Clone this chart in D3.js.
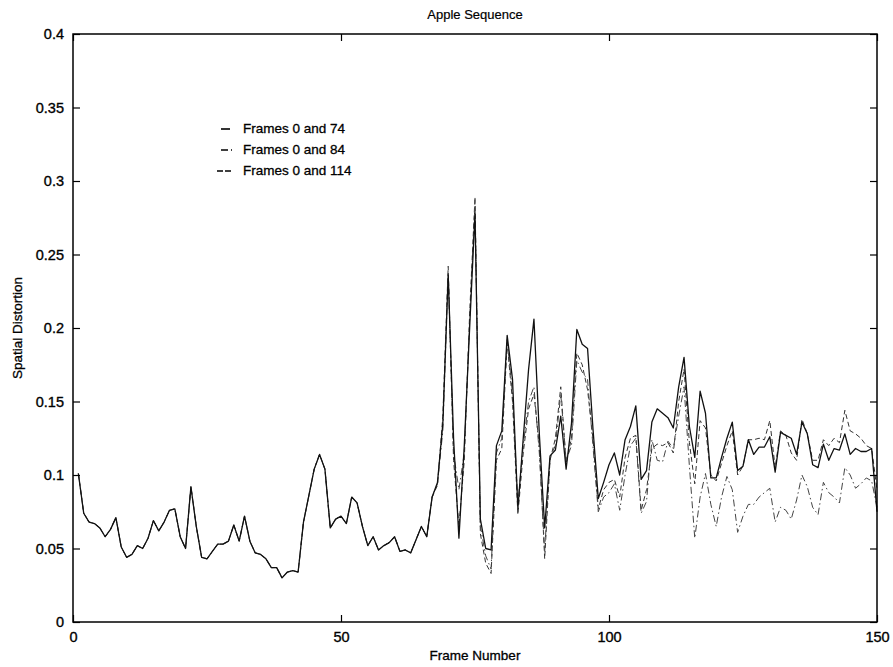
<!DOCTYPE html>
<html>
<head>
<meta charset="utf-8">
<script src="https://cdn.jsdelivr.net/npm/d3@7"></script>
<style>
  html, body { margin: 0; padding: 0; background: #fff; }
  svg { display: block; }
  text { font-family: "Liberation Sans", Arial, Helvetica, sans-serif; fill: #000; }
</style>
</head>
<body>
<svg id="chart" width="893" height="667"></svg>
<script>
const title = "Apple Sequence";
const xLabel = "Frame Number";
const yLabel = "Spatial Distortion";
const xTicks = [0, 50, 100, 150];
const yTicks = [0, 0.05, 0.1, 0.15, 0.2, 0.25, 0.3, 0.35, 0.4];
const yTickLabels = ["0", "0.05", "0.1", "0.15", "0.2", "0.25", "0.3", "0.35", "0.4"];
const seriesNames = ["Frames 0 and 74", "Frames 0 and 84", "Frames 0 and 114"];
const legendMarks = ["-", "-.", "--"];

const frames = [
  1,2,3,4,5,6,7,8,9,10,11,12,13,14,15,16,17,18,19,20,
  21,22,23,24,25,26,27,28,29,30,31,32,33,34,35,36,37,38,39,40,
  41,42,43,44,45,46,47,48,49,50,51,52,53,54,55,56,57,58,59,60,
  61,62,63,64,65,66,67,68,69,70,71,72,73,74,75,76,77,78,79,80,
  81,82,83,84,85,86,87,88,89,90,91,92,93,94,95,96,97,98,99,100,
  101,102,103,104,105,106,107,108,109,110,111,112,113,114,115,116,117,118,119,120,
  121,122,123,124,125,126,127,128,129,130,131,132,133,134,135,136,137,138,139,140,
  141,142,143,144,145,146,147,148,149,150
];

// Frames 0 and 74 (solid)
const frames74 = [
  0.101,0.074,0.068,0.067,0.064,0.058,0.063,0.071,0.051,0.044,
  0.046,0.052,0.050,0.057,0.069,0.062,0.068,0.076,0.077,0.058,
  0.050,0.092,0.065,0.044,0.043,0.048,0.053,0.053,0.055,0.066,
  0.055,0.072,0.055,0.047,0.046,0.043,0.037,0.037,0.030,0.034,
  0.035,0.034,0.068,0.086,0.104,0.114,0.104,0.064,0.070,0.072,
  0.067,0.085,0.081,0.065,0.052,0.058,0.049,0.052,0.054,0.058,
  0.048,0.049,0.047,0.056,0.065,0.058,0.085,0.095,0.135,0.236,
  0.125,0.057,0.120,0.200,0.278,0.070,0.050,0.049,0.120,0.130,
  0.195,0.165,0.077,0.125,0.172,0.206,0.128,0.064,0.113,0.117,
  0.140,0.104,0.135,0.199,0.189,0.186,0.132,0.084,0.095,0.107,
  0.115,0.100,0.124,0.133,0.147,0.097,0.103,0.136,0.145,0.142,
  0.139,0.132,0.160,0.180,0.133,0.112,0.157,0.142,0.098,0.098,
  0.112,0.125,0.136,0.103,0.106,0.124,0.114,0.119,0.119,0.126,
  0.102,0.129,0.127,0.125,0.114,0.136,0.128,0.107,0.105,0.121,
  0.110,0.118,0.117,0.128,0.114,0.118,0.116,0.116,0.118,0.075
];

// Frames 0 and 84 (dash-dot)
const frames84 = [
  0.101,0.074,0.068,0.067,0.064,0.058,0.063,0.071,0.051,0.044,
  0.046,0.052,0.050,0.057,0.069,0.062,0.068,0.076,0.077,0.058,
  0.050,0.092,0.065,0.044,0.043,0.048,0.053,0.053,0.055,0.066,
  0.055,0.072,0.055,0.047,0.046,0.043,0.037,0.037,0.030,0.034,
  0.035,0.034,0.068,0.086,0.104,0.114,0.104,0.064,0.070,0.072,
  0.067,0.085,0.081,0.065,0.052,0.058,0.049,0.052,0.054,0.058,
  0.048,0.049,0.047,0.056,0.065,0.058,0.085,0.094,0.130,0.238,
  0.115,0.090,0.115,0.205,0.285,0.065,0.045,0.036,0.115,0.125,
  0.192,0.155,0.080,0.120,0.150,0.160,0.115,0.048,0.112,0.120,
  0.155,0.110,0.120,0.178,0.170,0.165,0.120,0.075,0.085,0.088,
  0.094,0.076,0.100,0.120,0.125,0.074,0.082,0.124,0.110,0.109,
  0.123,0.118,0.140,0.160,0.106,0.057,0.085,0.101,0.080,0.065,
  0.085,0.099,0.090,0.061,0.072,0.080,0.080,0.085,0.088,0.091,
  0.068,0.078,0.076,0.070,0.083,0.100,0.092,0.078,0.073,0.095,
  0.088,0.085,0.081,0.105,0.100,0.091,0.094,0.098,0.096,0.078
];

// Frames 0 and 114 (dashed)
const frames114 = [
  0.101,0.074,0.068,0.067,0.064,0.058,0.063,0.071,0.051,0.044,
  0.046,0.052,0.050,0.057,0.069,0.062,0.068,0.076,0.077,0.058,
  0.050,0.092,0.065,0.044,0.043,0.048,0.053,0.053,0.055,0.066,
  0.055,0.072,0.055,0.047,0.046,0.043,0.037,0.037,0.030,0.034,
  0.035,0.034,0.068,0.086,0.104,0.114,0.104,0.064,0.070,0.072,
  0.067,0.085,0.081,0.065,0.052,0.058,0.049,0.052,0.054,0.058,
  0.048,0.049,0.047,0.056,0.065,0.058,0.085,0.093,0.140,0.242,
  0.110,0.065,0.110,0.210,0.289,0.060,0.040,0.033,0.110,0.118,
  0.190,0.150,0.073,0.115,0.145,0.155,0.120,0.043,0.110,0.125,
  0.160,0.108,0.125,0.183,0.175,0.158,0.125,0.077,0.090,0.095,
  0.097,0.085,0.112,0.125,0.127,0.076,0.090,0.118,0.121,0.120,
  0.122,0.115,0.150,0.172,0.122,0.094,0.137,0.132,0.100,0.096,
  0.108,0.120,0.130,0.100,0.106,0.124,0.124,0.125,0.124,0.137,
  0.105,0.130,0.127,0.115,0.110,0.138,0.128,0.110,0.110,0.124,
  0.120,0.125,0.122,0.144,0.130,0.128,0.125,0.120,0.118,0.090
];

const seriesValues = [frames74, frames84, frames114];
const seriesDash = [null, "7,3,1.5,3", "5,3"];
const seriesColor = ["#111", "#444", "#333"];

const svg = d3.select("#chart");
const W = 893, H = 667;
const m = { left: 73, right: 16, top: 34, bottom: 45 };
const iw = W - m.left - m.right, ih = H - m.top - m.bottom;

const x = d3.scaleLinear().domain([0, 150]).range([m.left, m.left + iw]);
const y = d3.scaleLinear().domain([0, 0.4]).range([m.top + ih, m.top]);

svg.append("rect").attr("width", W).attr("height", H).attr("fill", "#fff");

const g = svg.append("g");

// data lines
const line = d3.line().x((d, i) => x(frames[i])).y(d => y(d));
[2, 1, 0].forEach(k => {
  g.append("path")
    .datum(seriesValues[k])
    .attr("d", line)
    .attr("fill", "none")
    .attr("stroke", seriesColor[k])
    .attr("stroke-width", k === 0 ? 1.3 : 1)
    .attr("stroke-dasharray", seriesDash[k])
    .attr("stroke-linejoin", "round");
});

// axes: ticks inward on all sides
const tickLen = 7;
const axisBottom = d3.axisBottom(x).tickValues(xTicks).tickSize(-tickLen).tickPadding(10).tickFormat(d3.format("d"));
const axisTop = d3.axisTop(x).tickValues(xTicks).tickSize(-tickLen).tickFormat("");
const axisLeft = d3.axisLeft(y).tickValues(yTicks).tickSize(-tickLen).tickPadding(9).tickFormat((d, i) => yTickLabels[i]);
const axisRight = d3.axisRight(y).tickValues(yTicks).tickSize(-tickLen).tickFormat("");

function styleAxis(sel) {
  sel.select(".domain").remove();
  sel.selectAll("line").attr("stroke", "#000").attr("stroke-width", 1.2);
  sel.selectAll("text").attr("font-size", 14.5).attr("font-family", "Liberation Sans, Arial, sans-serif")
    .attr("fill", "#000").attr("stroke", "#000").attr("stroke-width", 0.35);
}
g.append("g").attr("transform", `translate(0,${m.top + ih})`).call(axisBottom).call(styleAxis);
g.append("g").attr("transform", `translate(0,${m.top})`).call(axisTop).call(styleAxis);
g.append("g").attr("transform", `translate(${m.left},0)`).call(axisLeft).call(styleAxis);
g.append("g").attr("transform", `translate(${m.left + iw},0)`).call(axisRight).call(styleAxis);

// box
g.append("rect")
  .attr("x", m.left).attr("y", m.top).attr("width", iw).attr("height", ih)
  .attr("fill", "none").attr("stroke", "#000").attr("stroke-width", 1.5);

// title and labels
svg.append("text").attr("x", m.left + iw / 2).attr("y", 19).attr("text-anchor", "middle")
  .attr("font-size", 13).attr("stroke", "#000").attr("stroke-width", 0.2).text(title);
svg.append("text").attr("x", m.left + iw / 2).attr("y", 660).attr("text-anchor", "middle")
  .attr("font-size", 13.5).attr("stroke", "#000").attr("stroke-width", 0.3).text(xLabel);
svg.append("text").attr("transform", `translate(22,${m.top + ih / 2}) rotate(-90)`).attr("text-anchor", "middle")
  .attr("font-size", 13.5).attr("stroke", "#000").attr("stroke-width", 0.3).text(yLabel);

// legend
const legX = 243, legY0 = 133, legDy = 21;
seriesNames.forEach((name, i) => {
  const yy = legY0 + i * legDy;
  const lg = svg.append("g");
  lg.append("line")
    .attr("x1", i === 2 ? 217 : 221).attr("x2", i === 0 ? 230 : 232)
    .attr("y1", yy - 4).attr("y2", yy - 4)
    .attr("stroke", "#000").attr("stroke-width", 1.6)
    .attr("stroke-dasharray", i === 0 ? null : (i === 1 ? "7,3,1.5,3" : "6,2"));
  lg.append("text").attr("x", legX).attr("y", yy).attr("font-size", 13.5)
    .attr("stroke", "#000").attr("stroke-width", 0.3).text(name);
});
</script>
</body>
</html>
